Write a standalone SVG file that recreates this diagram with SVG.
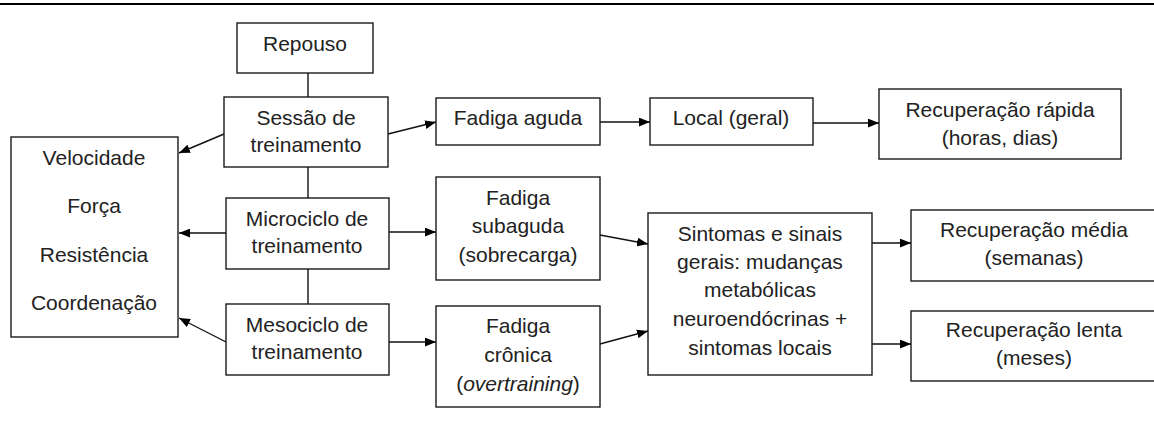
<svg xmlns="http://www.w3.org/2000/svg" width="1154" height="421" viewBox="0 0 1154 421">
  <defs>
    <marker id="arrow" viewBox="0 0 10 8" refX="10" refY="4" markerWidth="11" markerHeight="9" markerUnits="userSpaceOnUse" orient="auto">
      <path d="M0,0 L10,4 L0,8 Z" fill="#000"/>
    </marker>
    <style>
      .box { fill: #fff; stroke: #1a1a1a; stroke-width: 1.4; }
      .t { font-family: "Liberation Sans", Arial, sans-serif; font-size: 21px; fill: #222; text-anchor: middle; }
      .ln { stroke: #111; stroke-width: 1.4; fill: none; }
      .arr { stroke: #111; stroke-width: 1.4; fill: none; marker-end: url(#arrow); }
    </style>
  </defs>

  <rect width="1154" height="421" fill="#fff"/>
  <!-- top rule -->
  <line x1="0" y1="4" x2="1154" y2="4" stroke="#000" stroke-width="2"/>

  <!-- connectors -->
  <g id="connectors">
    <line class="ln" x1="308" y1="73" x2="308" y2="97"/>
    <line class="ln" x1="308" y1="167" x2="308" y2="198"/>
    <line class="ln" x1="308" y1="269" x2="308" y2="304"/>
    <line class="arr" x1="224" y1="134" x2="179" y2="153"/>
    <line class="arr" x1="226" y1="233" x2="179" y2="233"/>
    <line class="arr" x1="226" y1="342" x2="179" y2="318"/>
    <line class="arr" x1="388" y1="134" x2="436" y2="122"/>
    <line class="arr" x1="600" y1="122" x2="650" y2="122"/>
    <line class="arr" x1="813" y1="123" x2="879" y2="123"/>
    <line class="arr" x1="389" y1="232" x2="436" y2="232"/>
    <line class="arr" x1="389" y1="342" x2="436" y2="342"/>
    <line class="arr" x1="600" y1="235" x2="648" y2="244"/>
    <line class="arr" x1="600" y1="344" x2="648" y2="331"/>
    <line class="arr" x1="872" y1="243" x2="911" y2="243"/>
    <line class="arr" x1="872" y1="344" x2="911" y2="344"/>
  </g>

  <g id="repouso">
    <rect class="box" x="237" y="23" width="136" height="50"/>
    <text class="t" x="305" y="51">Repouso</text>
  </g>

  <g id="sessao">
    <rect class="box" x="224" y="97" width="164" height="70"/>
    <text class="t" x="306" y="125">Sessão de</text>
    <text class="t" x="306" y="152">treinamento</text>
  </g>

  <g id="capacidades">
    <rect class="box" x="11" y="137" width="167" height="200"/>
    <text class="t" x="94" y="165">Velocidade</text>
    <text class="t" x="94" y="213">Força</text>
    <text class="t" x="94" y="262">Resistência</text>
    <text class="t" x="94" y="310">Coordenação</text>
  </g>

  <g id="microciclo">
    <rect class="box" x="226" y="198" width="163" height="71"/>
    <text class="t" x="307" y="226">Microciclo de</text>
    <text class="t" x="307" y="253">treinamento</text>
  </g>

  <g id="mesociclo">
    <rect class="box" x="226" y="304" width="163" height="71"/>
    <text class="t" x="307" y="332">Mesociclo de</text>
    <text class="t" x="307" y="359">treinamento</text>
  </g>

  <g id="fadiga-aguda">
    <rect class="box" x="436" y="98" width="164" height="47"/>
    <text class="t" x="518" y="125">Fadiga aguda</text>
  </g>

  <g id="local">
    <rect class="box" x="650" y="98" width="163" height="47"/>
    <text class="t" x="731" y="125">Local (geral)</text>
  </g>

  <g id="recuperacao-rapida">
    <rect class="box" x="879" y="89" width="242" height="70"/>
    <text class="t" x="1000" y="117">Recuperação rápida</text>
    <text class="t" x="1000" y="145">(horas, dias)</text>
  </g>

  <g id="fadiga-subaguda">
    <rect class="box" x="436" y="177" width="164" height="103"/>
    <text class="t" x="518" y="205">Fadiga</text>
    <text class="t" x="518" y="233">subaguda</text>
    <text class="t" x="518" y="262">(sobrecarga)</text>
  </g>

  <g id="fadiga-cronica">
    <rect class="box" x="436" y="306" width="164" height="101"/>
    <text class="t" x="518" y="333">Fadiga</text>
    <text class="t" x="518" y="362">crônica</text>
    <text class="t" x="518" y="391">(<tspan font-style="italic">overtraining</tspan>)</text>
  </g>

  <g id="sintomas">
    <rect class="box" x="648" y="213" width="224" height="162"/>
    <text class="t" x="760" y="241">Sintomas e sinais</text>
    <text class="t" x="760" y="269">gerais: mudanças</text>
    <text class="t" x="760" y="297">metabólicas</text>
    <text class="t" x="760" y="326">neuroendócrinas +</text>
    <text class="t" x="760" y="355">sintomas locais</text>
  </g>

  <g id="recuperacao-media">
    <rect class="box" x="911" y="210" width="246" height="71"/>
    <text class="t" x="1034" y="237">Recuperação média</text>
    <text class="t" x="1034" y="265">(semanas)</text>
  </g>

  <g id="recuperacao-lenta">
    <rect class="box" x="911" y="311" width="246" height="70"/>
    <text class="t" x="1034" y="337">Recuperação lenta</text>
    <text class="t" x="1034" y="365">(meses)</text>
  </g>
</svg>
